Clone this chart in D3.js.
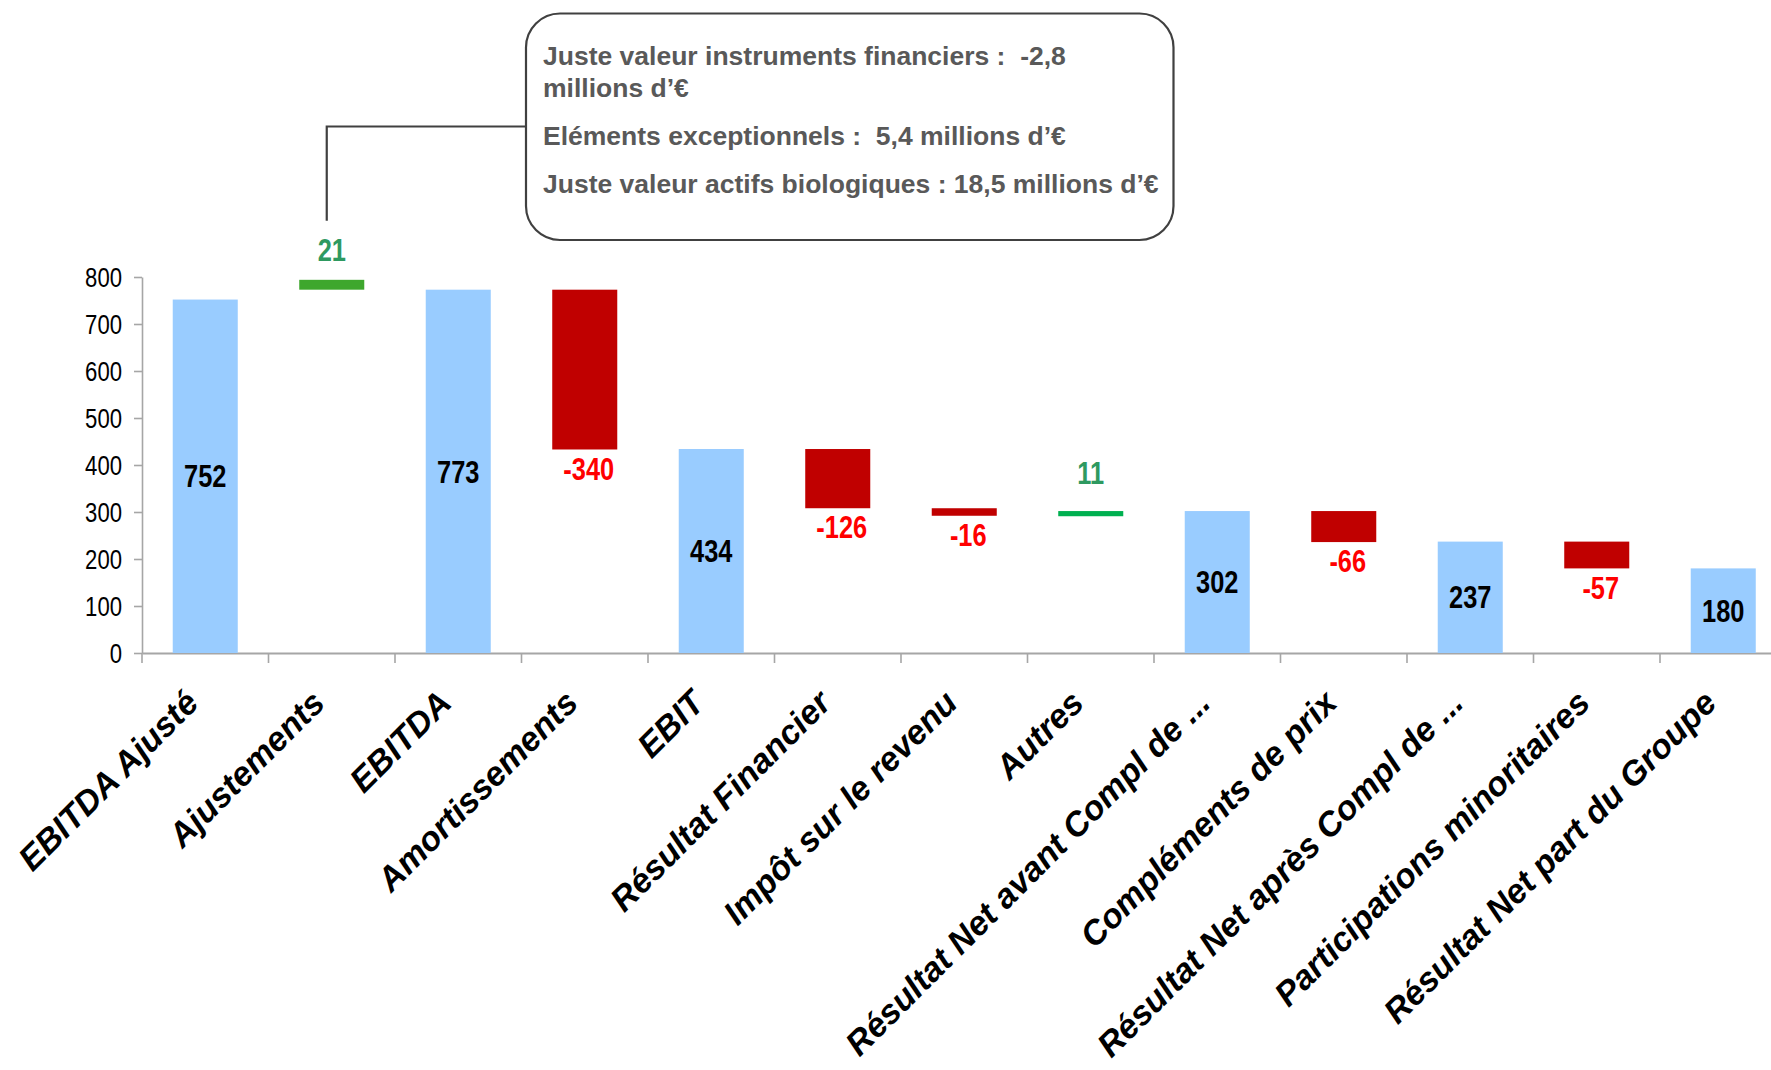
<!DOCTYPE html>
<html>
<head>
<meta charset="utf-8">
<script src="https://cdn.jsdelivr.net/npm/d3@7"></script>
<style>
  body { margin: 0; background: #ffffff; }
  svg { display: block; }
</style>
</head>
<body>
<svg id="chart" width="1771" height="1070"></svg>
<script>
// ---- Data (millions d'€) ----
const categories = [
  "EBITDA Ajusté", "Ajustements", "EBITDA", "Amortissements", "EBIT",
  "Résultat Financier", "Impôt sur le revenu", "Autres",
  "Résultat Net avant Compl de ...", "Compléments de prix",
  "Résultat Net après Compl de ...", "Participations minoritaires",
  "Résultat Net part du Groupe"
];
const values = [752, 21, 773, -340, 434, -126, -16, 11, 302, -66, 237, -57, 180];
const kinds  = ["total", "up", "total", "down", "total", "down", "down", "up",
                "total", "down", "total", "down", "total"];
// starting level of each floating step (totals start at 0)
const bases  = [0, 773, 0, 773, 0, 434, 308, 291, 0, 302, 0, 237, 0];
const yTicks = [0, 100, 200, 300, 400, 500, 600, 700, 800];
const noteLines = [
  "Juste valeur instruments financiers :  -2,8",
  "millions d’€",
  "Eléments exceptionnels :  5,4 millions d’€",
  "Juste valeur actifs biologiques : 18,5 millions d’€"
];

// ---- Styles ----
const FONT = "'Liberation Sans', Arial, Helvetica, sans-serif";
const NARROW = 0.82;                // horizontal squeeze for condensed labels
const fillByKind = { total: "#99ccff", down: "#c00000", up: "#3ea72d" };
const upFillByCategory = { "Autres": "#00b050" };
const upLabelGap = { "Ajustements": 29.5, "Autres": 38.5 };
const labelColor = { total: "#000000", down: "#ff0000", up: "#2e9960" };
const axisColor = "#a6a6a6";

const svg = d3.select("#chart");

// ---- Scales ----
const x = d3.scaleBand()
  .domain(categories)
  .range([142, 142 + 126.5 * categories.length])
  .padding(0);
const barW = x.bandwidth() * 0.514;
const barX = c => x(c) + (x.bandwidth() - barW) / 2;
const cx = c => x(c) + x.bandwidth() / 2;

const y = d3.scaleLinear().domain([0, 800]).range([653, 277]);

const rows = categories.map((c, i) => {
  const v = values[i], b = bases[i];
  const lo = Math.min(b, b + v), hi = Math.max(b, b + v);
  return { c, v, kind: kinds[i], lo, hi };
});

// ---- Y axis ----
const yAxis = svg.append("g")
  .attr("transform", `translate(${x.range()[0]},0)`)
  .call(d3.axisLeft(y).tickValues(yTicks).tickSize(8).tickSizeOuter(0));
yAxis.select(".domain").attr("stroke", axisColor).attr("stroke-width", 1.6);
yAxis.selectAll(".tick line").attr("stroke", axisColor).attr("stroke-width", 1.6);
yAxis.selectAll(".tick text")
  .attr("x", null).attr("dy", "0.35em")
  .attr("transform", `translate(-20,0) scale(${NARROW},1)`)
  .attr("fill", "#000").attr("font-family", FONT).attr("font-size", 27)
  .attr("text-anchor", "end");

// ---- X axis (boundary ticks between categories) ----
const xAxis = svg.append("g")
  .attr("transform", `translate(0,${y(0)})`)
  .call(d3.axisBottom(x).tickSize(0).tickSizeOuter(0).tickFormat(""));
xAxis.select(".domain").attr("stroke", axisColor).attr("stroke-width", 2);
const bounds = categories.map(c => x(c));
svg.append("g").selectAll("line").data(bounds).join("line")
  .attr("x1", d => d).attr("x2", d => d)
  .attr("y1", y(0)).attr("y2", y(0) + 10)
  .attr("stroke", axisColor).attr("stroke-width", 1.6);

// ---- Bars ----
svg.append("g").selectAll("rect").data(rows).join("rect")
  .attr("x", d => barX(d.c))
  .attr("width", barW)
  .attr("y", d => y(d.hi))
  .attr("height", d => y(d.lo) - y(d.hi))
  .attr("fill", d => d.kind === "up" && upFillByCategory[d.c] ? upFillByCategory[d.c] : fillByKind[d.kind]);

// ---- Value labels ----
function labelPos(d) {
  if (d.kind === "total") return [cx(d.c), (y(d.lo) + y(d.hi)) / 2];
  if (d.kind === "down") return [cx(d.c) + 4, y(d.lo) + 19];
  return [cx(d.c), y(d.hi) - (upLabelGap[d.c] || 33)];
}
svg.append("g").selectAll("text").data(rows).join("text")
  .attr("transform", d => { const p = labelPos(d); return `translate(${p[0]},${p[1]}) scale(${NARROW},1)`; })
  .attr("dy", "0.36em")
  .attr("text-anchor", "middle")
  .attr("font-family", FONT).attr("font-weight", "bold").attr("font-size", 31)
  .attr("fill", d => labelColor[d.kind])
  .text(d => d.v);

// ---- Category labels ----
svg.append("g").selectAll("text").data(categories).join("text")
  .attr("transform", c => `translate(${cx(c) - 5},705) rotate(-45)`)
  .attr("text-anchor", "end")
  .attr("font-family", FONT).attr("font-weight", "bold").attr("font-style", "italic")
  .attr("font-size", 34).attr("fill", "#000")
  .text(c => c);

// ---- Callout for the adjustments ----
const adj = rows[1];
const box = { x: 526, y: 13.5, w: 647.5, h: 226.5 };
svg.append("path")
  .attr("d", `M${box.x},126.5 H${cx(adj.c) - 5} V${y(adj.hi) - 59}`)
  .attr("fill", "none").attr("stroke", "#404040").attr("stroke-width", 2.2);
svg.append("rect")
  .attr("x", box.x).attr("y", box.y).attr("width", box.w).attr("height", box.h)
  .attr("rx", 34).attr("ry", 34)
  .attr("fill", "#ffffff").attr("stroke", "#404040").attr("stroke-width", 2.2);
const noteBaselines = [64.8, 96.5, 145, 192.5];
svg.append("g").selectAll("text").data(noteLines).join("text")
  .attr("x", 543).attr("y", (d, i) => noteBaselines[i])
  .attr("xml:space", "preserve").style("white-space", "pre")
  .attr("font-family", FONT).attr("font-weight", "bold").attr("font-size", 26.5)
  .attr("fill", "#595959")
  .text(d => d);
</script>
</body>
</html>
